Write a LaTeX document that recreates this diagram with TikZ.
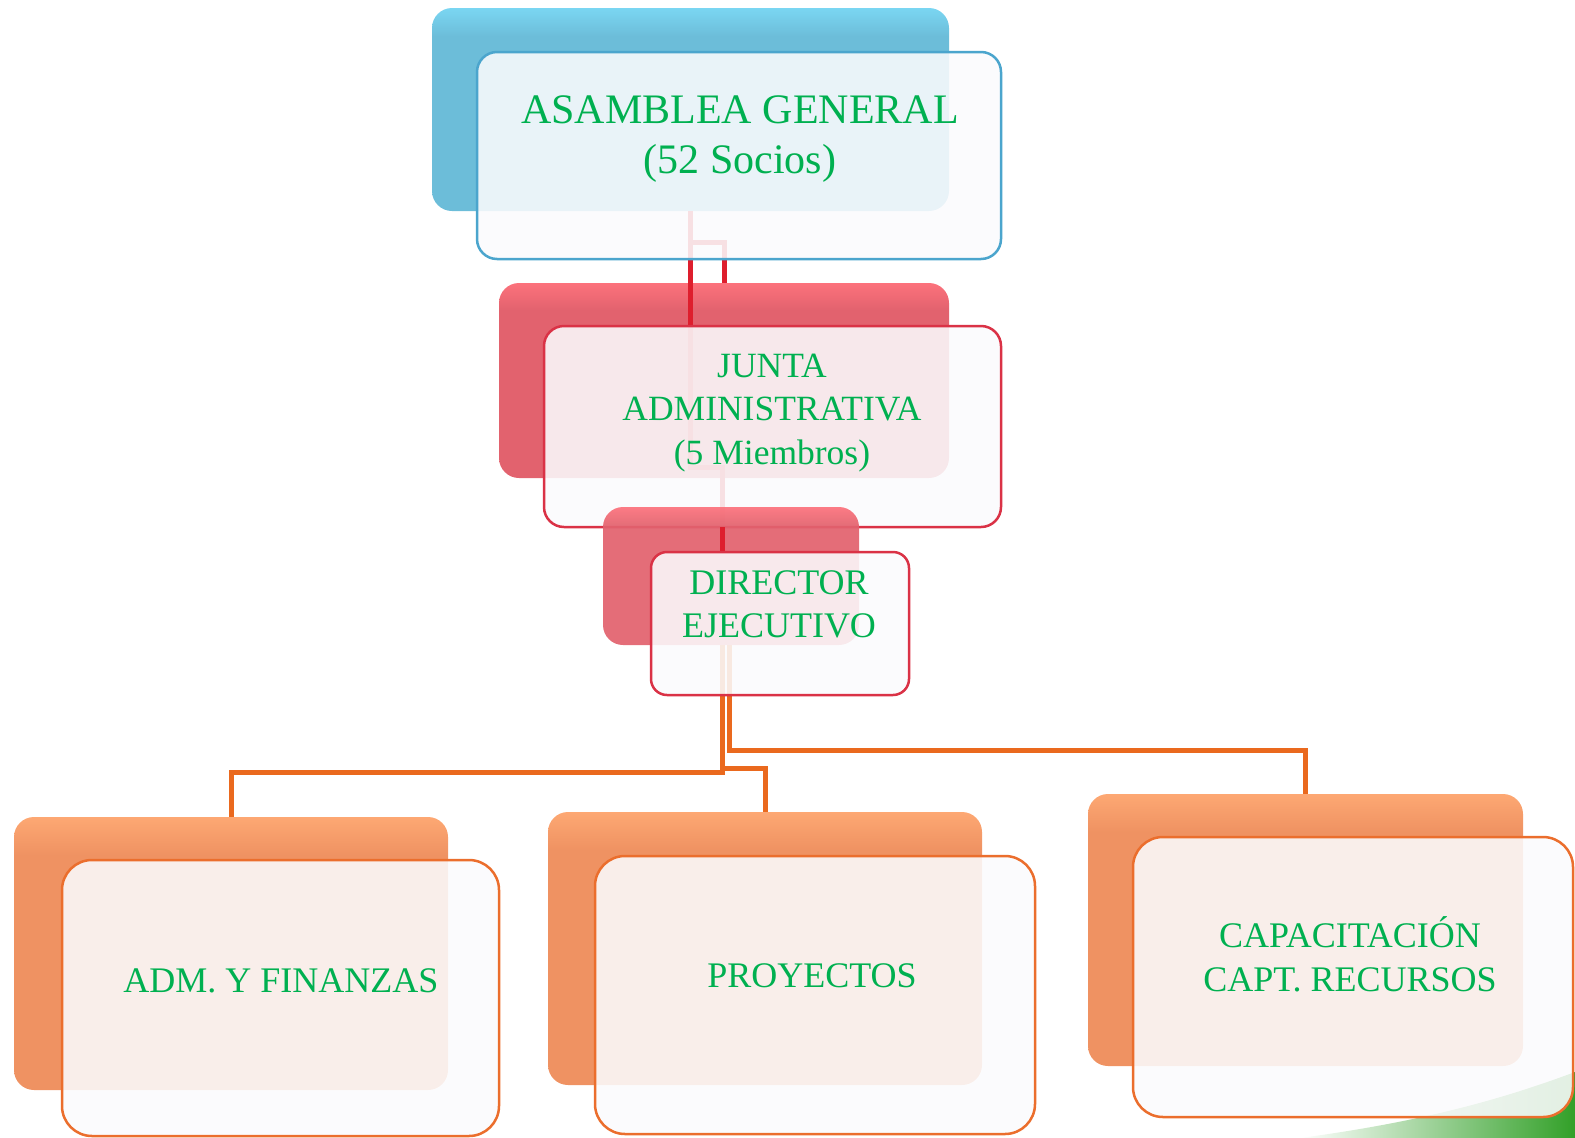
\documentclass[tikz,border=0pt]{standalone}
\usepackage{fontspec}
\setmainfont{Liberation Serif}
\definecolor{txtgreen}{RGB}{0,176,80}
\definecolor{bBack}{RGB}{108,189,217}
\definecolor{bBackTop}{RGB}{122,214,242}
\definecolor{bLine}{RGB}{75,165,205}
\definecolor{rBack}{RGB}{226,98,110}
\definecolor{rBackTop}{RGB}{252,114,124}
\definecolor{rLine}{RGB}{218,50,70}
\definecolor{oBack}{RGB}{239,146,98}
\definecolor{oBackTop}{RGB}{253,168,115}
\definecolor{oLine}{RGB}{235,110,45}
\definecolor{rConn}{RGB}{222,30,45}
\definecolor{oConn}{RGB}{234,105,30}
\definecolor{frontfill}{RGB}{251,251,253}
\definecolor{swoosh}{RGB}{50,160,40}
\definecolor{swooshMid}{RGB}{200,235,160}
\pgfdeclareverticalshading{blueShade}{100bp}{color(0bp)=(bBack); color(68bp)=(bBack); color(75bp)=(bBackTop); color(100bp)=(bBackTop)}
\pgfdeclareverticalshading{redShade}{100bp}{color(0bp)=(rBack); color(68bp)=(rBack); color(75bp)=(rBackTop); color(100bp)=(rBackTop)}
\pgfdeclareverticalshading{orangeShade}{100bp}{color(0bp)=(oBack); color(68bp)=(oBack); color(75bp)=(oBackTop); color(100bp)=(oBackTop)}
\tikzset{
  backbox/.style={rectangle, rounded corners=20pt, inner sep=0pt, outer sep=0pt,
     draw=none, shade, shading=#1},
  frontbox/.style={rectangle, rounded corners=#1, inner sep=0pt, outer sep=0pt,
     line width=2.5pt, fill=frontfill, fill opacity=0.88},
  lbl/.style={text=txtgreen, align=center, inner sep=0pt, font=\fontsize{36pt}{43.5pt}\selectfont},
  conn/.style={line width=5pt, draw=#1},
}
\begin{document}
\begin{tikzpicture}[x=1pt,y=-1pt]
\useasboundingbox (0,0) rectangle (1575,1138);
% background swoosh
\shade[left color=white, middle color=swooshMid, right color=swoosh]
  (1300,1138) .. controls (1420,1122) and (1500,1100) .. (1575,1072) -- (1575,1138) -- cycle;

% top back boxes
\node[backbox=blueShade, minimum width=517pt, minimum height=203pt] (aBack) at (690.5,109.5) {};
\node[backbox=redShade, minimum width=450pt, minimum height=195pt] (jBack) at (724,380.5) {};

% upper connectors
\coordinate (dIn) at (722,552);
\draw[conn=rConn] (aBack.south) -- ++(0,31) -| (jBack.north);
\draw[conn=rConn] (aBack.south) -- ++(0,256) -| (dIn);

% upper front boxes
\node[frontbox=20pt, draw=bLine, minimum width=524pt, minimum height=207pt] (aFront) at (739,155.5) {};
\node[frontbox=20pt, draw=rLine, minimum width=457pt, minimum height=201pt] (jFront) at (772.5,426.5) {};

% director back box over the junta box
\node[backbox=redShade, minimum width=256pt, minimum height=138pt, opacity=0.93] (dBack) at (731,576) {};
\draw[conn=rConn] (dIn |- jFront.south) -- (dIn);

% bottom back boxes
\node[backbox=orangeShade, minimum width=434pt, minimum height=273pt] (admBack) at (231,953.5) {};
\node[backbox=orangeShade, minimum width=434pt, minimum height=273pt] (pBack) at (765,948.5) {};
\node[backbox=orangeShade, minimum width=435pt, minimum height=272pt] (cBack) at (1305.5,930) {};

% lower connectors
\draw[conn=oConn] ([xshift=-9pt]dBack.south) -- ++(0,127) -| (admBack.north);
\draw[conn=oConn] ([xshift=-9pt]dBack.south) -- ++(0,123) -| (pBack.north);
\draw[conn=oConn] ([xshift=-2pt]dBack.south) -- ++(0,105) -| (cBack.north);

% lower front boxes
\node[frontbox=16pt, draw=rLine, minimum width=258pt, minimum height=143pt] (dFront) at (780,623.5) {};
\node[frontbox=30pt, draw=oLine, minimum width=437pt, minimum height=276pt] (admFront) at (280.5,998) {};
\node[frontbox=30pt, draw=oLine, minimum width=440pt, minimum height=278pt] (pFront) at (815,995) {};
\node[frontbox=30pt, draw=oLine, minimum width=440pt, minimum height=280pt] (cFront) at (1353,977) {};

% labels
\node[lbl, font=\fontsize{42pt}{50.2pt}\selectfont] (aText) at (740,139.4) {ASAMBLEA GENERAL\\(52 Socios)};
\node[lbl, font=\fontsize{35.5pt}{43.2pt}\selectfont] (jText) at (772,413) {JUNTA\\ADMINISTRATIVA\\(5 Miembros)};
\node[lbl] (dText) at (779,604.5) {DIRECTOR\\EJECUTIVO};
\node[lbl] (admText) at (281,981) {ADM. Y FINANZAS};
\node[lbl] (pText) at (812,976) {PROYECTOS};
\node[lbl] (cText) at (1350,954.5) {CAPACITACIÓN\\CAPT. RECURSOS};
\end{tikzpicture}
\end{document}
